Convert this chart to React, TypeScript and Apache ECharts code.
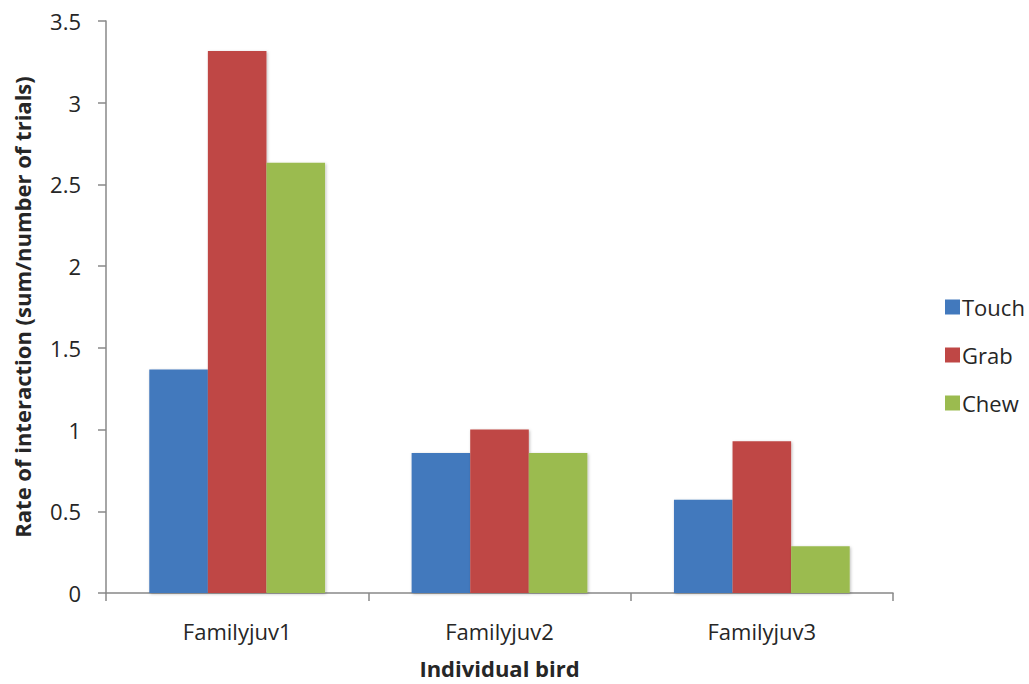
import React, { useEffect, useRef } from "react";
import * as echarts from "echarts";

const categories = ["Familyjuv1", "Familyjuv2", "Familyjuv3"];
const touch = [1.367, 0.857, 0.571];
const grab = [3.317, 1.0, 0.929];
const chew = [2.633, 0.857, 0.286];
const seriesNames = ["Touch", "Grab", "Chew"];
const colors = ["#4279BD", "#BF4745", "#9BBB4F"];

const FONT = "'Open Sans', Lato, sans-serif";

export default function App() {
  const ref = useRef<HTMLDivElement>(null);
  useEffect(() => {
    if (!ref.current) return;
    const chart = echarts.init(ref.current, undefined, { renderer: "svg" });
    const shadow = {
      shadowColor: "rgba(0,0,0,0.25)",
      shadowBlur: 3,
      shadowOffsetX: 1,
      shadowOffsetY: 1,
    };
    const data = [touch, grab, chew];
    chart.setOption({
      animation: false,
      backgroundColor: "#ffffff",
      textStyle: { fontFamily: FONT },
      grid: { left: 106, right: 136, top: 21, bottom: 88, containLabel: false },
      legend: {
        orient: "vertical",
        left: 940,
        top: 291,
        itemWidth: 15,
        itemHeight: 15,
        itemGap: 26,
        icon: "rect",
        data: seriesNames,
        textStyle: { fontSize: 22, color: "#262626", fontFamily: FONT, padding: [0, 0, 0, -3] },
      },
      xAxis: {
        type: "category",
        data: categories,
        name: "Individual bird",
        nameLocation: "middle",
        nameGap: 64,
        nameTextStyle: { fontSize: 22, fontWeight: "bold", color: "#262626", fontFamily: FONT },
        axisLine: { lineStyle: { color: "#888888", width: 1.5 } },
        axisTick: { show: true, length: 8, alignWithLabel: false, lineStyle: { color: "#888888", width: 1.5 } },
        axisLabel: { fontSize: 22, color: "#262626", margin: 27, fontFamily: FONT },
      },
      yAxis: {
        type: "value",
        min: 0,
        max: 3.5,
        interval: 0.5,
        name: "Rate of interaction (sum/number of trials)",
        nameLocation: "middle",
        nameGap: 73,
        nameRotate: 90,
        nameTextStyle: { fontSize: 22, fontWeight: "bold", color: "#262626", fontFamily: FONT },
        axisLine: { show: true, lineStyle: { color: "#888888", width: 1.5 } },
        axisTick: { show: true, length: 8, lineStyle: { color: "#888888", width: 1.5 } },
        splitLine: { show: false },
        axisLabel: { fontSize: 22, color: "#262626", margin: 25, fontFamily: FONT },
      },
      series: seriesNames.map((name, i) => ({
        name,
        type: "bar",
        data: data[i],
        barGap: "0%",
        barCategoryGap: "33%",
        itemStyle: { color: colors[i], ...shadow },
      })),
    });
    return () => chart.dispose();
  }, []);
  return (
    <div
      ref={ref}
      style={{ position: "fixed", left: 0, top: 0, width: 1029, height: 684 }}
    />
  );
}
